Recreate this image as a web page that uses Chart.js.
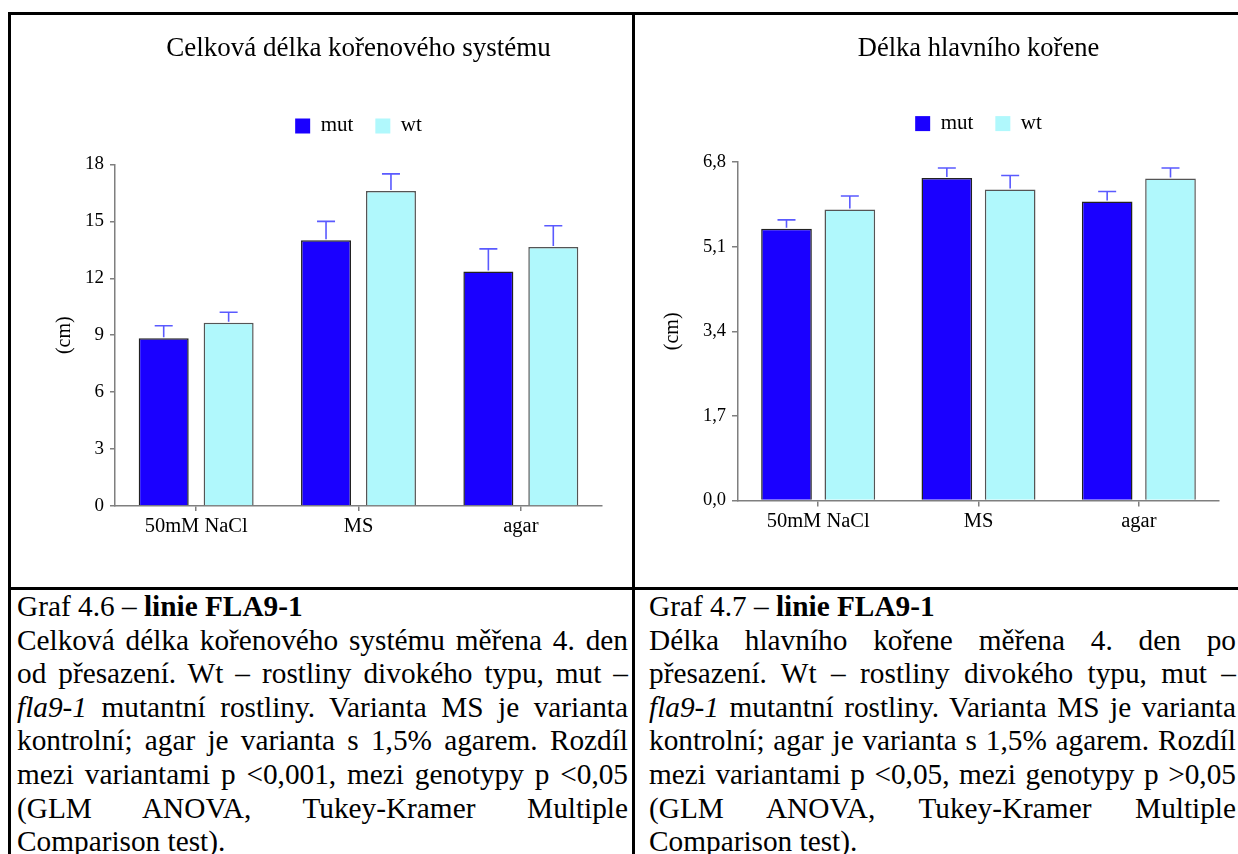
<!DOCTYPE html>
<html>
<head>
<meta charset="utf-8">
<script src="https://cdn.jsdelivr.net/npm/chart.js@4.4.1/dist/chart.umd.min.js"></script>
<style>
  html, body { margin: 0; padding: 0; background: #fff; }
  #wrap { position: relative; width: 1238px; height: 854px; overflow: hidden; background: #fff; }
  .ln { position: absolute; background: #000; }
  canvas { position: absolute; }
  .cap { position: absolute; font-family: 'Liberation Serif', 'Times New Roman', Times, serif; font-size: 29.3px; line-height: 33.6px; color: #000; }
  .cap div { white-space: nowrap; }
  .cap .j { text-align: justify; text-align-last: justify; }
</style>
</head>
<body>
<div id="wrap">
  <div class="ln" style="left:8px; top:12px; width:1240px; height:3px;"></div>
  <div class="ln" style="left:8px; top:12px; width:2.5px; height:850px;"></div>
  <div class="ln" style="left:632px; top:12px; width:2.5px; height:850px;"></div>
  <div class="ln" style="left:8px; top:587px; width:1240px; height:3px;"></div>

  <canvas id="c1" width="622" height="572" style="left:10px; top:16px;"></canvas>
  <canvas id="c2" width="601" height="572" style="left:635px; top:16px;"></canvas>

  <div class="cap" style="left:17px; top:590px; width:611px;">
    <div>Graf 4.6 – <b>linie FLA9-1</b></div>
    <div class="j">Celková délka kořenového systému měřena 4. den</div>
    <div class="j">od přesazení. Wt – rostliny divokého typu, mut –</div>
    <div class="j"><i>fla9-1</i> mutantní rostliny. Varianta MS je varianta</div>
    <div class="j">kontrolní; agar je varianta s 1,5% agarem. Rozdíl</div>
    <div class="j">mezi variantami p &lt;0,001, mezi genotypy p &lt;0,05</div>
    <div class="j">(GLM ANOVA, Tukey-Kramer Multiple</div>
    <div>Comparison test).</div>
  </div>
  <div class="cap" style="left:649px; top:590px; width:587px;">
    <div>Graf 4.7 – <b>linie FLA9-1</b></div>
    <div class="j">Délka hlavního kořene měřena 4. den po</div>
    <div class="j">přesazení. Wt – rostliny divokého typu, mut –</div>
    <div class="j"><i>fla9-1</i> mutantní rostliny. Varianta MS je varianta</div>
    <div class="j">kontrolní; agar je varianta s 1,5% agarem. Rozdíl</div>
    <div class="j">mezi variantami p &lt;0,05, mezi genotypy p &gt;0,05</div>
    <div class="j">(GLM ANOVA, Tukey-Kramer Multiple</div>
    <div>Comparison test).</div>
  </div>
</div>

<script>
// ---------- data ----------
const categories = ['50mM NaCl', 'MS', 'agar'];
const seriesNames = ['mut', 'wt'];

// Graf 4.6 – Celková délka kořenového systému (cm)
const totalTitle = 'Celková délka kořenového systému';
const totalMut = [8.84, 14.0, 12.35];
const totalWt = [9.66, 16.6, 13.65];
const totalMutErr = [0.66, 1.0, 1.2];
const totalWtErr = [0.55, 0.9, 1.12];
const totalTicks = [0, 3, 6, 9, 12, 15, 18];

// Graf 4.7 – Délka hlavního kořene (cm)
const mainTitle = 'Délka hlavního kořene';
const mainMut = [5.46, 6.48, 6.01];
const mainWt = [5.85, 6.25, 6.47];
const mainMutErr = [0.18, 0.2, 0.2];
const mainWtErr = [0.27, 0.28, 0.21];
const mainTicks = [0, 1.7, 3.4, 5.1, 6.8];

const yAxisTitle = '(cm)';

// ---------- style ----------
const FONT = "'Liberation Serif', 'Times New Roman', Times, serif";
const MUT_COLOR = '#1a00ff';
const WT_COLOR = '#b0f8fc';
const ERR_COLOR = '#5a5aff';
const AXIS_COLOR = '#7f7f7f';

const errorBars = {
  id: 'errorBars',
  afterDatasetsDraw(chart) {
    const ctx = chart.ctx;
    const y = chart.scales.y;
    chart.data.datasets.forEach((ds, i) => {
      const meta = chart.getDatasetMeta(i);
      meta.data.forEach((bar, j) => {
        const top = y.getPixelForValue(ds.data[j] + ds.errors[j]);
        ctx.save();
        ctx.strokeStyle = ERR_COLOR;
        ctx.lineWidth = 1.6;
        ctx.beginPath();
        ctx.moveTo(bar.x, bar.y - 1);
        ctx.lineTo(bar.x, top);
        ctx.moveTo(bar.x - 9, top);
        ctx.lineTo(bar.x + 9, top);
        ctx.stroke();
        ctx.restore();
      });
    });
  }
};

function legendLabels(chart) {
  return Chart.defaults.plugins.legend.labels.generateLabels(chart)
    .map(l => Object.assign({}, l, { lineWidth: 0, strokeStyle: 'rgba(0,0,0,0)' }));
}

function makeChart(id, cfg) {
  const barOpts = { barPercentage: cfg.barPct, categoryPercentage: cfg.catPct, borderWidth: 1.5 };
  return new Chart(document.getElementById(id), {
    type: 'bar',
    data: {
      labels: categories,
      datasets: [
        Object.assign({ label: seriesNames[0], data: cfg.mut, errors: cfg.mutErr,
          backgroundColor: MUT_COLOR, borderColor: '#222' }, barOpts),
        Object.assign({ label: seriesNames[1], data: cfg.wt, errors: cfg.wtErr,
          backgroundColor: WT_COLOR, borderColor: '#555' }, barOpts)
      ]
    },
    options: {
      responsive: false,
      animation: false,
      layout: { padding: { left: 0, right: cfg.padRight, top: 0, bottom: 0 } },
      plugins: {
        title: {
          display: true, text: cfg.title, fullSize: false, color: '#000',
          font: { family: FONT, size: cfg.titleSize, weight: 'normal' },
          padding: { top: 17, bottom: cfg.titleBottom }
        },
        subtitle: {
          display: true, text: '', fullSize: false, weight: 500,
          font: { family: FONT, size: 18, lineHeight: 1 }, padding: 0
        },
        legend: {
          display: true, fullSize: false,
          labels: {
            boxWidth: 15, boxHeight: 15, padding: 22, color: '#000',
            font: { family: FONT, size: 21 },
            generateLabels: legendLabels
          }
        },
        tooltip: { enabled: false }
      },
      scales: {
        x: {
          type: 'category',
          offset: true,
          grid: { display: true, drawOnChartArea: false, drawTicks: true, offset: false,
                  tickLength: cfg.tickLen, color: AXIS_COLOR, lineWidth: 1.5 },
          border: { display: true, color: AXIS_COLOR, width: 1.5 },
          ticks: { color: '#000', font: { family: FONT, size: 20.5 }, padding: 3,
                   maxRotation: 0, autoSkip: false },
          afterFit(s) { s.height = cfg.xHeight; }
        },
        y: {
          min: cfg.ticks[0],
          max: cfg.ticks[cfg.ticks.length - 1],
          afterBuildTicks(s) { s.ticks = cfg.ticks.map(v => ({ value: v })); },
          grid: { display: true, drawOnChartArea: false, drawTicks: true,
                  tickLength: cfg.tickLen, color: AXIS_COLOR, lineWidth: 1.5 },
          border: { display: true, color: AXIS_COLOR, width: 1.5 },
          ticks: { color: '#000', font: { family: FONT, size: cfg.tickSize }, padding: 6,
                   callback: v => cfg.fmt(v) },
          title: { display: true, text: yAxisTitle, color: '#000',
                   font: { family: FONT, size: 20 }, padding: { top: cfg.yTitlePad, bottom: 0 } },
          afterFit(s) { s.width = cfg.yWidth; }
        }
      }
    },
    plugins: [errorBars]
  });
}

makeChart('c1', {
  title: totalTitle, mut: totalMut, wt: totalWt, mutErr: totalMutErr, wtErr: totalWtErr,
  ticks: totalTicks, fmt: v => String(v),
  barPct: 0.77, catPct: 0.80, padRight: 30, yWidth: 105, xHeight: 82,
  titleSize: 27, titleBottom: 28, tickLen: 5, tickSize: 19, yTitlePad: 42.5
});

makeChart('c2', {
  title: mainTitle, mut: mainMut, wt: mainWt, mutErr: mainMutErr, wtErr: mainWtErr,
  ticks: mainTicks, fmt: v => v.toFixed(1).replace('.', ','),
  barPct: 0.80, catPct: 0.79, padRight: 17, yWidth: 103, xHeight: 87.5,
  titleSize: 26.5, titleBottom: 26.3, tickLen: 6, tickSize: 18.5, yTitlePad: 25.5
});
</script>
</body>
</html>
